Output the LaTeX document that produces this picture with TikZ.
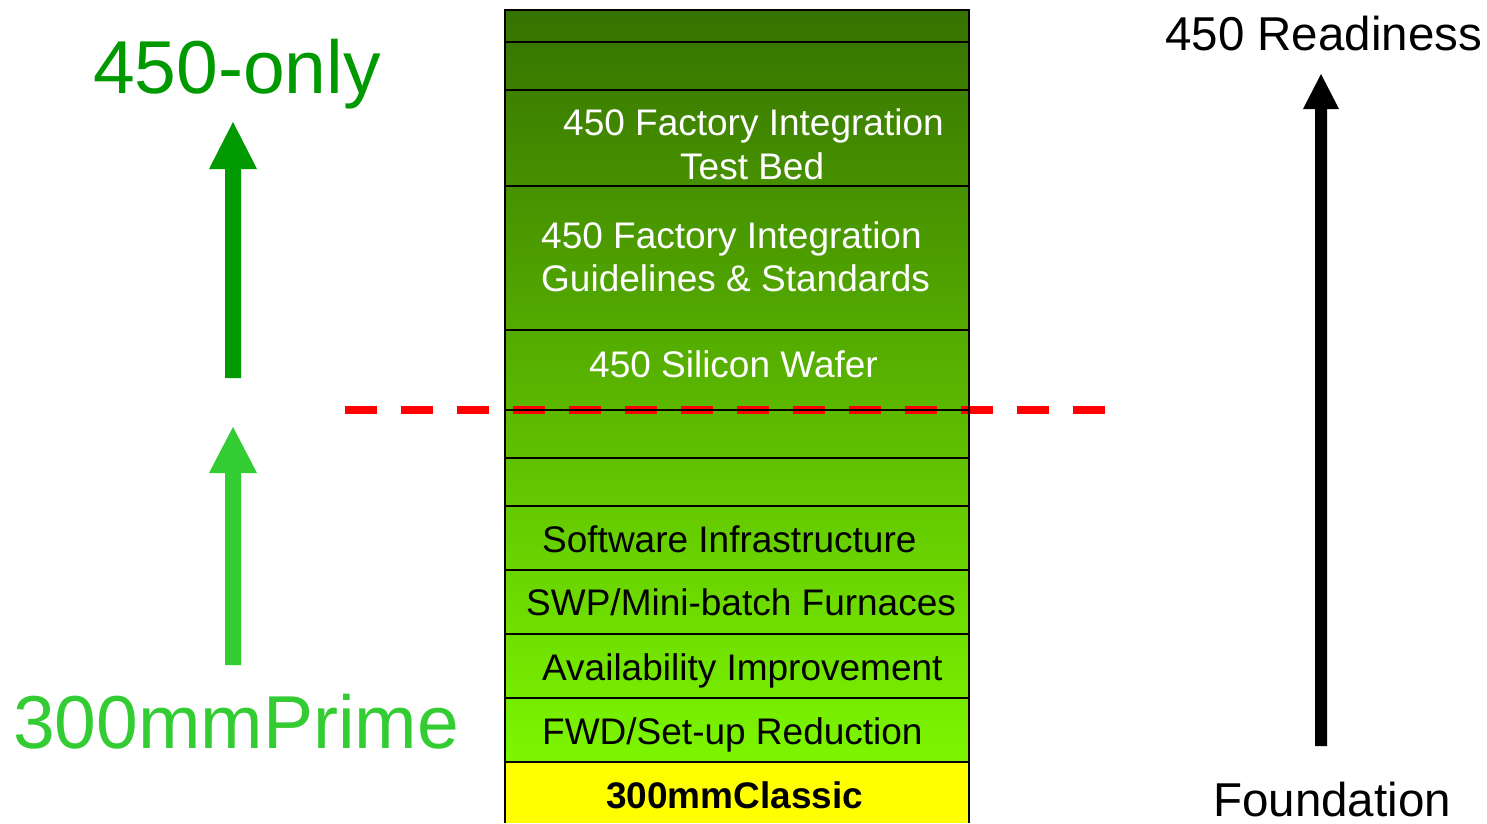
\documentclass[tikz,border=0pt]{standalone}
\usepackage{fontspec}
\setmainfont{Liberation Sans}
\definecolor{gtop}{RGB}{54,114,0}
\definecolor{gbot}{RGB}{124,246,0}
\definecolor{onlygreen}{RGB}{0,153,0}
\definecolor{primegreen}{RGB}{51,204,51}
\definecolor{classicyellow}{RGB}{255,255,0}
\definecolor{dashred}{RGB}{255,0,0}
\tikzset{
  big/.style={inner sep=0pt, anchor=base west, font=\fontsize{75}{80}\selectfont},
  mid/.style={inner sep=0pt, anchor=base west, font=\fontsize{47.5}{56}\selectfont},
  rowtext/.style={inner sep=0pt, anchor=base west, font=\fontsize{37}{44}\selectfont},
  rowline/.style={line width=2pt, black},
}
\begin{document}
\begin{tikzpicture}[x=1pt, y=-1pt]
\useasboundingbox (0,0) rectangle (1487,823);
\fill[white] (0,0) rectangle (1487,823);

% the stack of layers
\shade[top color=gtop, bottom color=gbot] (505,10) rectangle (969,762);
\fill[classicyellow] (505,762) rectangle (969,823);

% 300mm / 450mm boundary
\draw[dashred, line width=8pt, dash pattern=on 32pt off 24pt] (345,410) -- (1110,410);

% layer outlines
\draw[rowline] (505,823) -- (505,10) -- (969,10) -- (969,823);
\foreach \yy in {42,90,186,330,410,458,506,570,634,698,762}
  \draw[rowline] (505,\yy) -- (969,\yy);

% layer labels
\node[rowtext, text=white] (tb1) at (563,135) {450 Factory Integration};
\node[rowtext, text=white] (tb2) at (680,179) {Test Bed};
\node[rowtext, text=white] (gs1) at (541,248) {450 Factory Integration};
\node[rowtext, text=white] (gs2) at (541,291) {Guidelines \& Standards};
\node[rowtext, text=white] (sw) at (589,377) {450 Silicon Wafer};
\node[rowtext] (si) at (542,552) {Software Infrastructure};
\node[rowtext] (swp) at (526,615) {SWP/Mini-batch Furnaces};
\node[rowtext] (ai) at (542,680) {Availability Improvement};
\node[rowtext] (fwd) at (542,744) {FWD/Set-up Reduction};
\node[rowtext, font=\fontsize{37}{44}\selectfont\bfseries] (classic) at (606,808) {300mmClassic};

% left side: block arrows and headings
\fill[onlygreen] (225,378) -- (225,169) -- (209,169) -- (233,122) -- (257,169) -- (241,169) -- (241,378) -- cycle;
\fill[primegreen] (225,665) -- (225,473) -- (209,473) -- (233,427) -- (257,473) -- (241,473) -- (241,665) -- cycle;
\node[big, text=onlygreen] (only) at (93,93) {450-only};
\node[big, text=primegreen] (prime) at (13,748) {300mmPrime};

% right side: readiness arrow
\fill[black] (1315,746) -- (1315,109) -- (1303,109) -- (1321,74) -- (1339,109) -- (1327,109) -- (1327,746) -- cycle;
\node[mid] (ready) at (1165,50) {450 Readiness};
\node[mid] (found) at (1213,816) {Foundation};
\end{tikzpicture}
\end{document}
